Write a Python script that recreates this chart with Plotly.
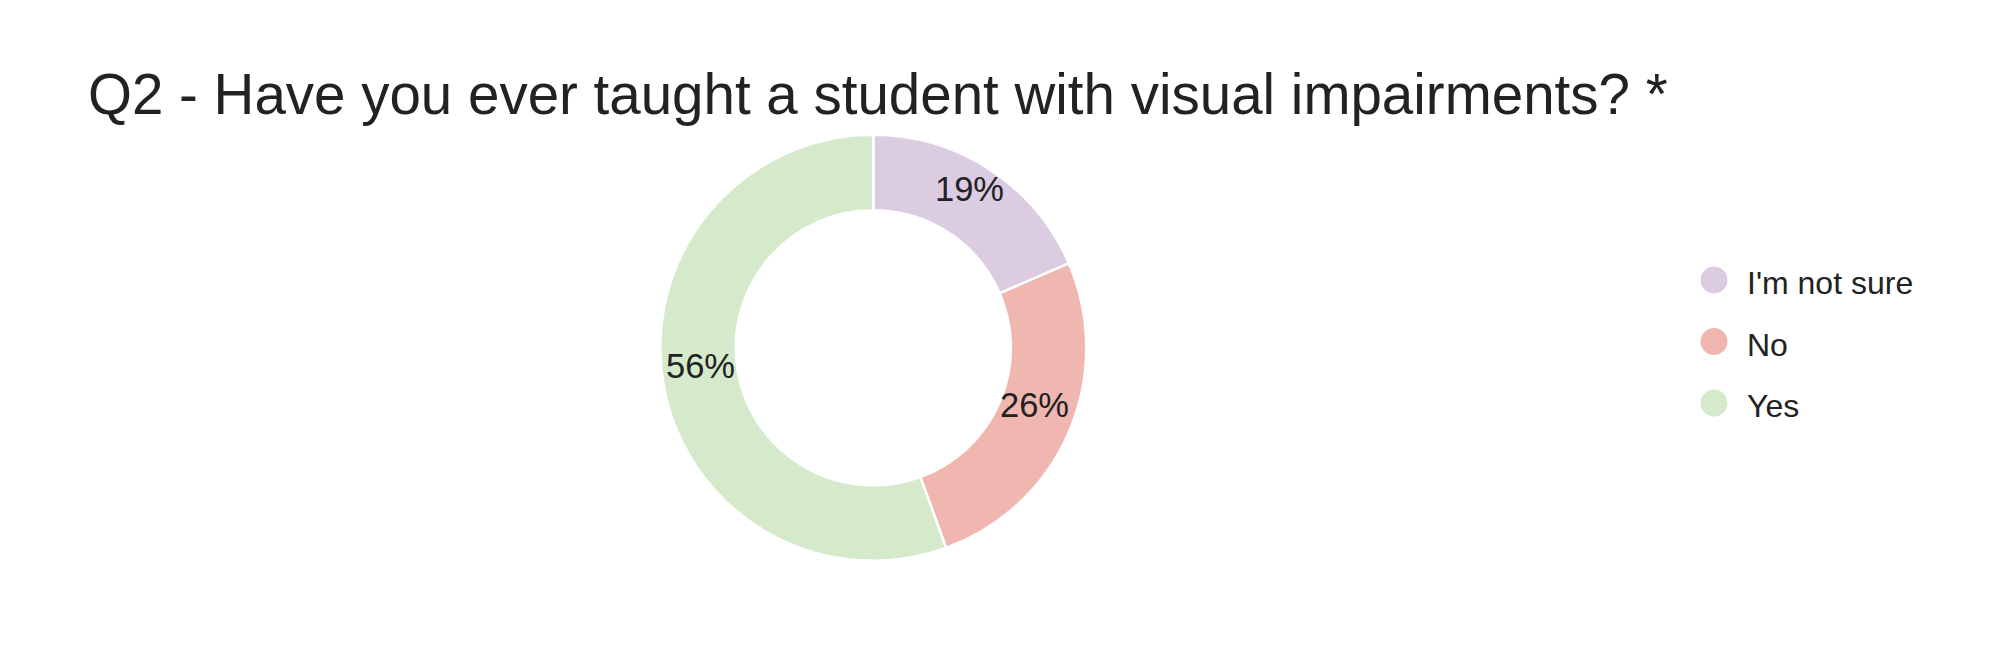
import numpy as np
import plotly.graph_objects as go

categories = ["I'm not sure", "No", "Yes"]
counts = [10, 14, 30]
colors = ["#dccce2", "#f0b7b0", "#d4eacb"]
title_text = "Q2 - Have you ever taught a student with visual impairments? *"

W, H = 2002, 660
OFF = 8  # page body margin of the browser
FONT = "Liberation Sans, Arial, sans-serif"
TXT = "#222222"

# geometry (screen pixels -> figure pixels)
cx, cy, R = 873.3 - OFF, 347.8 - OFF, 213.0
HOLE = 0.646

fig = go.Figure()

fig.add_trace(go.Pie(
    labels=categories, values=counts, sort=False, direction="clockwise",
    hole=HOLE, marker=dict(colors=colors, line=dict(color="white", width=2.5)),
    textinfo="none",
    domain=dict(x=[(cx - R) / W, (cx + R) / W], y=[1 - (cy + R) / H, 1 - (cy - R) / H]),
    showlegend=False, hoverinfo="label+percent",
))

# percentage labels at mid-angle of each slice, computed from the data
vals = np.array(counts, dtype=float)
frac = vals / vals.sum()
mid = (np.cumsum(frac) - frac / 2) * 2 * np.pi
r_txt = R * (1 + HOLE) / 2
lx = cx + r_txt * np.sin(mid)
ly = cy - r_txt * np.cos(mid) - 12
pct = [f"{round(f * 100):.0f}%" for f in frac]
annotations = [
    dict(x=float(x), y=float(y), xref="x", yref="y", text=t, showarrow=False,
         xanchor="center", yanchor="middle",
         font=dict(family=FONT, size=34.5, color=TXT))
    for x, y, t in zip(lx, ly, pct)
]

# custom legend (circles + labels)
idx = np.arange(len(categories))
leg_x, leg_y0, leg_step = 1714 - OFF, 280 - OFF, 61.5
fig.add_trace(go.Scatter(
    x=np.full(len(categories), leg_x), y=leg_y0 + idx * leg_step, mode="markers",
    marker=dict(size=27, color=colors, line=dict(width=0)),
    showlegend=False, hoverinfo="skip", cliponaxis=False,
))
fig.add_trace(go.Scatter(
    x=np.full(len(categories), 1747 - OFF), y=leg_y0 + idx * leg_step + 6, mode="text",
    text=categories, textposition="middle right",
    textfont=dict(family=FONT, size=32, color=TXT),
    showlegend=False, hoverinfo="skip", cliponaxis=False,
))

fig.update_layout(
    width=W, height=H,
    margin=dict(l=0, r=0, t=0, b=0),
    paper_bgcolor="white", plot_bgcolor="rgba(0,0,0,0)",
    title=dict(text=title_text, x=80 / W, xanchor="left", xref="container",
               y=1 - 86.7 / H, yanchor="middle", yref="container",
               font=dict(family=FONT, size=56.5, color=TXT)),
    xaxis=dict(domain=[0, 1], range=[0, W], visible=False, fixedrange=True),
    yaxis=dict(domain=[0, 1], range=[H, 0], visible=False, fixedrange=True),
    annotations=annotations,
)

fig.write_html("out.html")
